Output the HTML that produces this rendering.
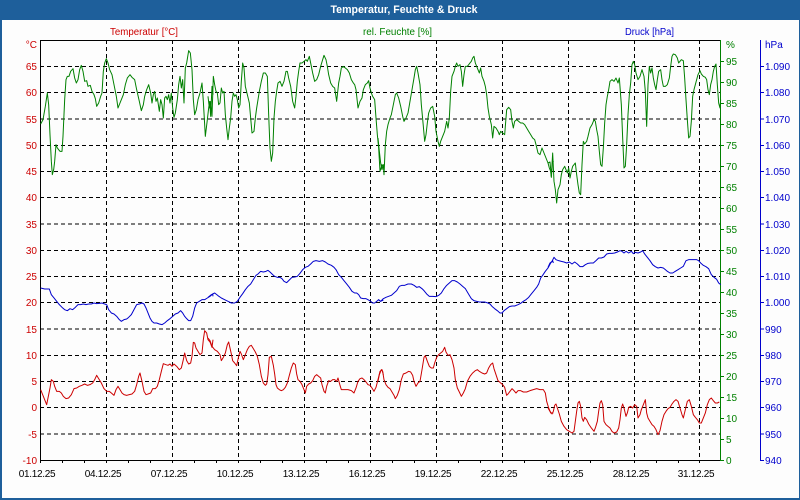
<!DOCTYPE html>
<html><head><meta charset="utf-8"><style>
html,body{margin:0;padding:0;background:#fff;}
svg{display:block;}
text{font-family:"Liberation Sans",sans-serif;}
</style></head><body>
<svg width="800" height="500" viewBox="0 0 800 500" xmlns="http://www.w3.org/2000/svg">
<rect x="0" y="0" width="800" height="500" fill="#1e5f9b"/>
<rect x="2" y="20" width="797" height="478" fill="#fdfdfd"/>
<text x="404" y="13" fill="#fff" font-size="11" font-weight="bold" text-anchor="middle" textLength="147" lengthAdjust="spacingAndGlyphs">Temperatur, Feuchte &amp; Druck</text>
<text x="110" y="35" fill="#cc0000" font-size="10" textLength="68" lengthAdjust="spacingAndGlyphs">Temperatur [°C]</text>
<text x="363" y="35" fill="#008000" font-size="10" textLength="69" lengthAdjust="spacingAndGlyphs">rel. Feuchte [%]</text>
<text x="625" y="35" fill="#0000cc" font-size="10" textLength="49" lengthAdjust="spacingAndGlyphs">Druck [hPa]</text>

<g stroke="#000" stroke-width="1" stroke-dasharray="4,3" fill="none">
<path d="M40 66.5H721M40 92.5H721M40 119H721M40 145.5H721M40 171.5H721M40 197.5H721M40 224H721M40 250.5H721M40 276.5H721M40 302.5H721M40 329H721M40 355.5H721M40 381.5H721M40 407.5H721M40 434H721"/>
<path d="M106.5 40V460M172.5 40V460M238.5 40V460M304.5 40V460M370.5 40V460M436.5 40V460M502.5 40V460M568.5 40V460M634.5 40V460M699.5 40V460"/>
</g>
<g stroke="#000" stroke-width="1" fill="none">
<path d="M40.5 40V460.5H721M40 40.5H721"/>
<path d="M40.5 460v3M62.5 460v3M84.5 460v3M106.5 460v3M128.5 460v3M150.5 460v3M172.5 460v3M194.5 460v3M216.5 460v3M238.5 460v3M260.5 460v3M282.5 460v3M304.5 460v3M326.5 460v3M348.5 460v3M370.5 460v3M392.5 460v3M414.5 460v3M436.5 460v3M458.5 460v3M480.5 460v3M502.5 460v3M524.5 460v3M546.5 460v3M568.5 460v3M590.5 460v3M612.5 460v3M634.5 460v3M656.5 460v3M678.5 460v3M699.5 460v3"/>
</g>
<g stroke="#008000" stroke-width="1" fill="none">
<path d="M720.5 40V461"/>
<path d="M721 460.5h3M721 439.5h3M721 418.5h3M721 397.5h3M721 376.5h3M721 355.5h3M721 334.5h3M721 313.5h3M721 292.5h3M721 271.5h3M721 250.5h3M721 229.5h3M721 208.5h3M721 187.5h3M721 166.5h3M721 145.5h3M721 124.5h3M721 103.5h3M721 82.5h3M721 61.5h3"/>
</g>
<g stroke="#0000cc" stroke-width="1" fill="none">
<path d="M760.5 40V461"/>
<path d="M761 460.5h3M761 434h3M761 407.5h3M761 381.5h3M761 355.5h3M761 329h3M761 302.5h3M761 276.5h3M761 250.5h3M761 224h3M761 197.5h3M761 171.5h3M761 145.5h3M761 119h3M761 92.5h3M761 66.5h3"/>
</g>

<g font-size="10" fill="#cc0000" text-anchor="end">
<text x="37" y="48">°C</text>
<text x="37" y="70">65</text><text x="37" y="96">60</text><text x="37" y="123">55</text><text x="37" y="149">50</text><text x="37" y="175">45</text><text x="37" y="201">40</text><text x="37" y="228">35</text><text x="37" y="254">30</text><text x="37" y="280">25</text><text x="37" y="306">20</text><text x="37" y="333">15</text><text x="37" y="359">10</text><text x="37" y="385">5</text><text x="37" y="411">0</text><text x="37" y="438">-5</text><text x="37" y="464">-10</text>
</g>
<g font-size="10" fill="#008000">
<text x="726" y="48">%</text>
<text x="726" y="65">95</text><text x="726" y="86">90</text><text x="726" y="107">85</text><text x="726" y="128">80</text><text x="726" y="149">75</text><text x="726" y="170">70</text><text x="726" y="191">65</text><text x="726" y="212">60</text><text x="726" y="233">55</text><text x="726" y="254">50</text><text x="726" y="275">45</text><text x="726" y="296">40</text><text x="726" y="317">35</text><text x="726" y="338">30</text><text x="726" y="359">25</text><text x="726" y="380">20</text><text x="726" y="401">15</text><text x="726" y="422">10</text><text x="726" y="443">5</text><text x="726" y="464">0</text>
</g>
<g font-size="10" fill="#0000cc">
<text x="765" y="48">hPa</text>
<text x="765" y="70">1.090</text><text x="765" y="96">1.080</text><text x="765" y="123">1.070</text><text x="765" y="149">1.060</text><text x="765" y="175">1.050</text><text x="765" y="201">1.040</text><text x="765" y="228">1.030</text><text x="765" y="254">1.020</text><text x="765" y="280">1.010</text><text x="765" y="306">1.000</text><text x="765" y="333">990</text><text x="765" y="359">980</text><text x="765" y="385">970</text><text x="765" y="411">960</text><text x="765" y="438">950</text><text x="765" y="464">940</text>
</g>
<g font-size="10" fill="#000" text-anchor="middle" letter-spacing="-0.3">
<text x="37" y="477">01.12.25</text><text x="103" y="477">04.12.25</text><text x="169" y="477">07.12.25</text><text x="235" y="477">10.12.25</text><text x="301" y="477">13.12.25</text><text x="367" y="477">16.12.25</text><text x="433" y="477">19.12.25</text><text x="499" y="477">22.12.25</text><text x="565" y="477">25.12.25</text><text x="631" y="477">28.12.25</text><text x="696" y="477">31.12.25</text>
</g>

<!-- Segment 1 -->
<g transform="translate(38,38) scale(0.33333)" fill="none" stroke-width="3" stroke-linejoin="round">
<polyline stroke="#008000" points="8,258 15,245 22,205 28,165 32,200 36,290 40,370 43,410 47,395 50,370 54,320 58,330 62,335 66,340 72,340 75,295 80,185 84,125 88,115 93,115 98,100 105,92 110,120 115,135 120,125 125,95 130,82 135,100 140,130 146,128 150,145 157,142 162,160 168,170 172,182 176,205 182,195 188,175 192,165 196,100 200,75 205,62 210,75 215,95 222,110 228,140 235,175 240,210 248,190 256,170 262,140 268,120 276,110 282,118 290,125 296,155 304,190 310,218 316,200 320,175 326,155 332,140 338,165 342,195 346,170 350,160 354,190 358,180 364,220 368,185 372,200 376,240 380,180 384,175 388,185 392,170 396,195 400,165 404,210 408,238 412,225 418,185 422,140 426,115 430,150 434,125 438,195 442,90 446,75 452,38 457,45 462,95 466,185 470,230 475,215 480,185 486,165 492,135 496,190 502,295 508,245 512,210 515,190 518,235 522,145 525,170"/>
<polyline stroke="#0000cc" points="8,750 20,753 34,753 40,770 48,780 56,790 64,800 72,808 80,815 88,818 96,812 104,815 112,808 120,800 128,800 136,798 144,800 152,798 160,798 168,795 176,797 184,796 192,795 200,798 206,800 212,815 220,825 228,828 236,835 244,845 250,850 258,845 266,843 272,838 280,830 288,815 296,800 304,798 312,795 318,798 324,810 330,825 336,840 342,850 348,855 356,855 364,858 372,860 380,855 388,848 396,842 404,835 412,828 420,825 428,818 434,825 440,835 446,842 452,848 458,848 464,835 470,810 476,795 484,790 492,785 500,785 508,780 516,775 524,768 525,775"/>
<polyline stroke="#cc0000" points="8,1055 14,1070 20,1085 26,1100 30,1080 36,1050 40,1025 46,1030 50,1045 56,1060 64,1060 70,1065 76,1075 84,1082 92,1080 100,1070 108,1052 116,1050 124,1045 132,1042 140,1038 148,1042 156,1040 164,1035 170,1025 176,1012 182,1022 190,1035 198,1052 206,1060 214,1060 220,1065 228,1072 234,1055 240,1045 246,1055 252,1065 258,1070 266,1072 274,1070 282,1068 290,1060 296,1040 302,1015 306,1005 312,1030 318,1060 324,1070 330,1068 338,1065 344,1052 352,1052 358,1045 364,1025 370,1000 376,977 384,980 390,982 396,978 402,985 408,978 416,985 424,995 430,990 436,965 440,945 446,968 452,978 458,975 462,955 466,913 470,915 474,930 480,940 486,950 492,945 496,905 500,878 506,885 510,905 516,912 522,928 525,905"/>
</g>
<!-- Segment 2 -->
<g transform="translate(208,38) scale(0.33333)" fill="none" stroke-width="3" stroke-linejoin="round">
<polyline stroke="#008000" points="0,175 4,210 8,190 12,235 16,115 20,140 24,160 28,165 32,200 36,195 40,150 44,165 48,160 52,230 56,270 60,305 64,270 68,240 72,190 76,165 80,175 84,170 88,185 92,210 96,200 100,130 104,75 108,90 112,145 118,170 124,195 128,240 132,285 138,280 142,240 146,210 150,185 154,160 160,130 166,105 172,105 178,115 182,230 186,330 190,370 194,345 198,240 202,190 206,160 210,135 216,130 222,145 228,130 234,100 238,100 242,120 248,145 254,190 260,210 264,175 268,130 272,100 276,75 282,75 288,70 294,65 298,70 304,55 308,75 314,105 320,130 326,125 332,110 338,85 344,65 348,52 354,65 358,85 362,110 368,135 374,145 380,150 386,190 392,135 396,115 400,90 406,85 412,90 418,95 424,105 430,125 436,135 440,140 444,155 450,210 456,190 462,180 466,155 472,140 478,135 482,128 486,150 490,165 494,175 500,185 504,240 508,290 512,330 516,400 522,380 526,390"/>
<polyline stroke="#0000cc" points="0,778 10,770 20,765 30,773 40,780 50,785 60,790 70,795 80,795 88,790 96,778 104,767 112,755 120,745 128,738 136,725 144,712 150,708 158,700 166,702 174,700 180,697 186,702 194,710 200,715 208,718 216,718 222,722 228,730 236,734 244,726 252,718 260,717 268,715 276,706 284,695 292,688 300,685 308,678 316,670 324,668 334,670 344,668 352,672 360,678 370,682 378,688 384,695 392,710 400,718 408,728 416,738 424,748 432,760 440,765 446,765 452,770 458,780 466,782 474,782 480,785 488,790 494,795 500,795 506,790 512,785 518,790 526,786"/>
<polyline stroke="#cc0000" points="0,900 6,908 12,925 20,935 28,940 36,950 40,968 46,958 52,945 58,920 62,912 66,930 70,948 74,968 80,975 86,983 92,955 96,940 100,948 106,965 112,950 118,935 124,925 130,922 136,932 142,942 148,955 154,980 160,1015 166,1035 172,1042 176,1038 180,1010 184,958 190,955 196,982 200,1008 204,1040 208,1050 214,1055 220,1058 226,1055 232,1048 238,1035 244,1012 250,990 256,975 262,980 266,1008 270,1025 276,1030 282,1040 288,1055 292,1065 296,1045 302,1038 308,1035 314,1028 320,1015 326,1010 332,1015 338,1020 342,1040 348,1060 352,1065 356,1045 362,1028 368,1030 374,1025 380,1025 386,1030 390,1020 396,1042 400,1055 410,1055 420,1055 430,1058 438,1065 444,1050 450,1030 456,1022 462,1020 468,1025 474,1032 480,1040 486,1042 492,1050 498,1060 504,1048 510,1025 516,1000 522,995 526,1010"/>
</g>
<!-- Segment 3 -->
<g transform="translate(378,38) scale(0.33333)" fill="none" stroke-width="3" stroke-linejoin="round">
<polyline stroke="#008000" points="0,300 4,340 8,375 12,395 16,380 18,410 22,320 26,280 30,260 36,240 40,230 46,200 52,170 56,165 62,180 68,205 74,235 78,250 84,240 90,225 96,190 102,155 108,120 112,95 116,85 120,105 126,140 130,200 136,265 140,310 144,290 148,255 152,225 158,210 164,205 170,235 174,280 180,310 184,325 188,310 194,295 200,280 206,250 210,270 214,240 218,160 222,115 228,100 232,85 236,75 240,85 246,80 250,100 254,145 258,110 262,85 268,85 272,80 276,75 280,70 284,60 288,55 292,75 296,85 300,95 304,105 308,90 312,115 318,130 322,145 326,170 330,210 334,235 340,260 344,300 348,265 354,270 360,280 364,290 368,280 374,285 380,290 386,215 392,208 398,215 402,250 406,270 410,250 416,245 422,250 428,255 434,255 440,260 446,270 452,280 458,290 464,300 470,305 474,320 480,345 486,350 492,330 498,345 504,360 510,375 514,390 518,400 520,418 524,365 526,372"/>
<polyline stroke="#0000cc" points="0,785 8,790 16,782 24,778 32,775 40,772 48,765 56,758 64,745 72,742 80,742 90,738 100,738 108,742 116,748 124,746 132,752 138,758 146,768 154,775 164,775 174,776 182,772 190,765 198,752 206,742 214,735 222,728 230,728 238,732 246,738 254,745 262,752 268,762 274,772 280,782 288,788 296,790 304,792 312,792 320,792 330,795 336,798 342,805 350,812 358,818 366,825 372,825 378,818 386,812 394,806 402,804 410,804 420,800 428,796 436,790 444,785 452,778 460,768 468,758 476,748 482,738 488,720 494,712 502,700 510,690 518,675 524,668 526,675"/>
<polyline stroke="#cc0000" points="0,1030 4,1010 10,995 14,1000 18,1025 24,1040 30,1048 36,1052 42,1062 48,1072 52,1082 58,1072 64,1055 70,1025 76,1008 84,1005 92,1000 98,1002 104,1012 108,1030 114,1045 120,1035 126,1030 132,995 138,958 142,953 148,970 154,985 160,990 166,990 170,975 176,958 182,950 188,945 194,940 200,928 204,942 210,952 216,950 222,965 228,990 232,1025 238,1050 244,1062 250,1075 256,1065 262,1052 268,1030 276,1015 284,1005 292,998 298,995 304,1000 312,1005 320,1008 326,1005 332,990 338,980 344,975 348,992 354,1010 360,1028 368,1035 374,1040 380,1048 386,1072 390,1068 396,1060 402,1052 408,1058 414,1065 420,1058 428,1058 436,1062 446,1062 456,1058 466,1055 476,1052 486,1055 496,1055 502,1065 506,1090 512,1110 518,1125 526,1125"/>
</g>
<!-- Segment 4 -->
<g transform="translate(548,38) scale(0.33333)" fill="none" stroke-width="3" stroke-linejoin="round">
<polyline stroke="#008000" points="0,375 6,372 10,415 14,345 18,430 22,455 26,495 30,455 36,440 40,410 44,395 50,385 54,395 58,405 62,390 66,420 70,400 74,385 78,380 82,375 86,410 90,440 94,465 98,470 102,380 106,310 110,318 116,310 120,295 126,270 132,260 138,245 142,250 146,275 150,295 154,340 158,380 162,385 166,330 170,255 174,200 178,175 182,155 186,130 192,125 198,130 204,120 210,135 214,120 220,200 224,300 228,390 232,385 236,320 240,230 244,170 248,135 252,80 256,70 260,80 264,105 270,125 276,115 282,95 288,115 292,160 296,265 300,140 304,85 308,105 312,90 316,120 320,140 324,155 328,125 332,100 338,95 342,125 346,145 352,145 358,140 364,120 368,85 372,55 376,48 382,50 388,60 392,75 396,70 400,65 406,68 410,120 414,185 418,245 422,300 426,295 430,250 434,175 438,155 442,140 446,125 450,110 456,98 460,108 466,115 472,118 476,125 480,155 484,170 488,140 492,125 496,100 500,85 504,78 508,140 512,195 516,210 518,185"/>
<polyline stroke="#0000cc" points="0,688 6,675 12,670 18,658 24,665 32,668 40,670 48,672 56,675 64,672 72,678 80,672 88,678 96,686 104,686 112,680 120,676 128,675 136,675 144,668 152,660 160,660 168,657 176,648 184,646 192,646 200,645 208,642 216,638 222,640 228,645 234,640 242,645 250,640 256,647 262,643 270,645 278,642 284,638 290,648 298,658 306,668 314,680 322,686 330,690 338,688 346,690 352,695 358,700 366,705 374,705 382,700 390,695 398,690 406,685 414,668 422,665 430,665 438,665 446,665 452,668 458,675 466,682 474,686 482,692 490,710 498,718 506,724 512,735 518,740"/>
<polyline stroke="#cc0000" points="0,1110 6,1120 12,1128 16,1120 20,1102 24,1098 28,1110 34,1128 40,1150 48,1165 56,1175 64,1180 72,1185 78,1180 82,1150 86,1120 90,1095 94,1090 98,1105 102,1140 106,1150 110,1138 116,1145 122,1158 130,1170 138,1180 142,1170 148,1150 152,1120 156,1095 160,1088 164,1100 168,1150 174,1160 180,1165 186,1170 192,1180 198,1185 206,1182 212,1170 216,1145 220,1110 224,1098 228,1110 234,1135 238,1125 242,1108 248,1105 254,1110 260,1100 266,1105 270,1140 276,1130 280,1115 286,1100 292,1085 296,1125 300,1140 306,1150 312,1160 318,1165 324,1175 330,1190 336,1178 342,1150 348,1130 354,1120 360,1112 366,1108 372,1098 378,1090 384,1085 390,1090 396,1110 402,1130 406,1140 412,1115 418,1090 424,1085 430,1105 436,1130 442,1138 448,1145 454,1155 460,1155 466,1140 472,1125 478,1100 484,1085 490,1080 496,1088 502,1095 508,1095 514,1092"/>
</g>
</svg>
</body></html>
